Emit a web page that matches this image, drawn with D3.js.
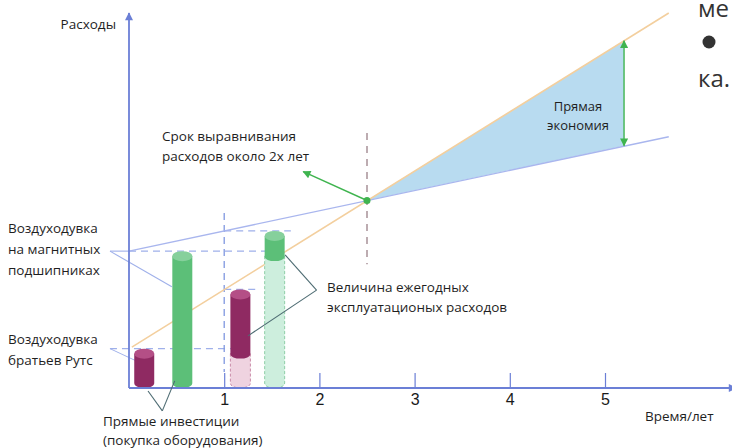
<!DOCTYPE html>
<html>
<head>
<meta charset="utf-8">
<script src="https://cdn.jsdelivr.net/npm/d3@7"></script>
<style>
  body { margin: 0; background: #fff; }
  svg { display: block; }
  .lbl { font-family: "Open Sans", sans-serif; font-size: 13.5px; fill: #1f1f1f; }
</style>
</head>
<body>
<svg id="chart" width="732" height="448"></svg>
<script>
// годы на оси X
const years = [1, 2, 3, 4, 5];

// линии накопленных расходов [год, расходы]
const rootsLine = [[0.03, 10.9], [5.67, 100]];
const magLine = [[0, 36.5], [5.67, 67]];
const breakEven = [2.5, 50];
const savingT = 5.2;
const savingTop = 92.6;
const savingBottom = 64.6;

// цилиндры: позиция (год), основание, верх, тип, прозрачный
const cylinders = [
  { t: 0.16, base: 0, top: 10.5, kind: "roots", ghost: false },
  { t: 0.56, base: 0, top: 36.5, kind: "mag", ghost: false },
  { t: 1.17, base: 0, top: 10.5, kind: "roots", ghost: true },
  { t: 1.17, base: 10.5, top: 26.3, kind: "roots", ghost: false },
  { t: 1.53, base: 0, top: 36.5, kind: "mag", ghost: true },
  { t: 1.53, base: 36.5, top: 41.9, kind: "mag", ghost: false }
];

const svg = d3.select("#chart");
const x = d3.scaleLinear().domain([0, 5]).range([129, 605]);
const y = d3.scaleLinear().domain([0, 100]).range([388, 13]);

const axisColor = "#6b7fd6";
const blueLine = "#a9b6ee";
const orangeLine = "#f3cf9e";
const green = "#3fb44f";
const connector = "#4d6b72";

// маркеры стрелок
const defs = svg.append("defs");
function marker(id, color, w, h) {
  defs.append("marker")
    .attr("id", id).attr("viewBox", "0 0 10 10")
    .attr("refX", 9).attr("refY", 5)
    .attr("markerWidth", w).attr("markerHeight", h)
    .attr("markerUnits", "userSpaceOnUse")
    .attr("orient", "auto-start-reverse")
    .append("path").attr("d", "M0,0 L10,5 L0,10 z").attr("fill", color);
}
marker("axArrow", axisColor, 9, 8);
marker("gArrow", green, 10, 8);

// заливка "Прямая экономия"
svg.append("path")
  .attr("d", d3.line()([
    [x(breakEven[0]), y(breakEven[1])],
    [x(savingT), y(savingTop)],
    [x(savingT), y(savingBottom)]
  ]) + "Z")
  .attr("fill", "#b8dbf0");

// пунктирные линии уровней
const dash = (x1, y1, x2, y2, color, da) => svg.append("line")
  .attr("x1", x1).attr("y1", y1).attr("x2", x2).attr("y2", y2)
  .attr("stroke", color).attr("stroke-width", 1.3).attr("stroke-dasharray", da);

dash(x(-0.2), y(10.5), x(1.28), y(10.5), "#9fb0ea", "7,5");
dash(x(0), y(36.5), x(1.43), y(36.5), "#9fb0ea", "7,5");
dash(x(1.0), y(26.3), x(1.33), y(26.3), "#9fb0ea", "7,5");
dash(x(1.0), y(41.9), x(1.7), y(41.9), "#9fb0ea", "7,5");
dash(x(1.0), y(46.7), x(1.0), y(4.3), "#7f97e0", "7,5");
dash(x(2.5), y(68), x(2.5), y(33), "#9a8088", "7,6");

// линии накопленных расходов
svg.append("path").attr("d", d3.line().x(d => x(d[0])).y(d => y(d[1]))(magLine))
  .attr("fill", "none").attr("stroke", blueLine).attr("stroke-width", 1.4);
svg.append("path").attr("d", d3.line().x(d => x(d[0])).y(d => y(d[1]))(rootsLine))
  .attr("fill", "none").attr("stroke", orangeLine).attr("stroke-width", 1.6);

// линии-выноски подписей слева
const seg = (a, b, color) => svg.append("line")
  .attr("x1", x(a[0])).attr("y1", y(a[1])).attr("x2", x(b[0])).attr("y2", y(b[1]))
  .attr("stroke", color).attr("stroke-width", 1.1);
seg([-0.2, 36.5], [0, 36.5], "#9fb0ea");
seg([-0.2, 36.5], [0.45, 27], "#9fb0ea");
seg([-0.2, 10.5], [0.12, 6.7], "#9fb0ea");

// цилиндры
const cw = x(0.21) - x(0);
const ry = 5;
cylinders.forEach(c => {
  const cx = x(c.t);
  const yt = y(c.top) + ry;
  const yb = c.base === 0 ? y(0) - ry : y(c.base) + ry;
  const l = cx - cw / 2, r = cx + cw / 2;
  let body, topFill, stroke;
  if (c.kind === "roots") {
    body = c.ghost ? "#efd3e0" : "#8f2a62";
    topFill = c.ghost ? "#f5e0ea" : "#b44f86";
    stroke = c.ghost ? "#c98aa8" : "#7a2053";
  } else {
    body = c.ghost ? "#cdeedd" : "#5cbf78";
    topFill = c.ghost ? "#dff5e8" : "#86d09c";
    stroke = c.ghost ? "#8fcfa7" : "#4aa965";
  }
  const g = svg.append("g");
  const p = d3.path();
  p.moveTo(l, yt);
  p.lineTo(l, yb);
  p.bezierCurveTo(l, yb + ry * 1.33, r, yb + ry * 1.33, r, yb);
  p.lineTo(r, yt);
  p.closePath();
  g.append("path").attr("d", p.toString())
    .attr("fill", body)
    .attr("stroke", c.ghost ? stroke : "none")
    .attr("stroke-width", 1)
    .attr("stroke-dasharray", c.ghost ? "3,2" : null);
  if (!c.ghost) {
    g.append("ellipse").attr("cx", cx).attr("cy", yt).attr("rx", cw / 2).attr("ry", ry)
      .attr("fill", topFill);
  }
});

// оси
const xAxis = d3.axisBottom(x).tickValues(years).tickFormat(d3.format("d"))
  .tickSizeInner(-15).tickSizeOuter(0).tickPadding(6);
const gx = svg.append("g").attr("transform", `translate(0,${y(0)})`).call(xAxis);
gx.select(".domain").remove();
gx.selectAll(".tick line").attr("stroke", axisColor).attr("stroke-width", 1.2);
gx.selectAll(".tick text").attr("fill", "#1a1a1a")
  .style("font-family", "'Liberation Sans', Arial, sans-serif").style("font-size", "16px");

svg.append("line").attr("x1", x(0)).attr("y1", y(0)).attr("x2", 736).attr("y2", y(0))
  .attr("stroke", axisColor).attr("stroke-width", 1.8).attr("marker-end", "url(#axArrow)");
svg.append("line").attr("x1", x(0)).attr("y1", y(0)).attr("x2", x(0)).attr("y2", 13)
  .attr("stroke", axisColor).attr("stroke-width", 1.8).attr("marker-end", "url(#axArrow)");

// выноски к подписям снизу и справа
seg([0.2, -0.8], [0.35, -6.1], connector);
seg([0.48, 1.9], [0.35, -6.1], connector);
seg([1.97, 26.1], [1.64, 35.5], connector);
seg([1.97, 26.1], [1.25, 13.9], connector);

// стрелка к сроку выравнивания
svg.append("line")
  .attr("x1", x(breakEven[0])).attr("y1", y(breakEven[1]))
  .attr("x2", x(1.83)).attr("y2", y(57.7))
  .attr("stroke", green).attr("stroke-width", 1.4).attr("marker-end", "url(#gArrow)");
svg.append("circle").attr("cx", x(breakEven[0])).attr("cy", y(breakEven[1])).attr("r", 3.5)
  .attr("fill", green);

// двусторонняя стрелка экономии
svg.append("line")
  .attr("x1", x(savingT)).attr("y1", y(savingBottom))
  .attr("x2", x(savingT)).attr("y2", y(savingTop))
  .attr("stroke", green).attr("stroke-width", 1.4)
  .attr("marker-start", "url(#gArrow)").attr("marker-end", "url(#gArrow)");

// подписи
function label(lines, px, py, opts = {}) {
  const t = svg.append("text").attr("class", "lbl")
    .attr("x", px).attr("y", py)
    .attr("text-anchor", opts.anchor || "start");
  if (opts.size) t.style("font-size", opts.size + "px");
  lines.forEach((s, i) => {
    t.append("tspan").attr("x", px).attr("dy", i === 0 ? 0 : (opts.lh || 21)).text(s);
  });
}
label(["Расходы"], 116, 29, { anchor: "end" });
label(["Воздуходувка", "на магнитных", "подшипниках"], 8, 233);
label(["Воздуходувка", "братьев Рутс"], 8, 344);
label(["Прямые инвестиции", "(покупка оборудования)"], 103, 426, { lh: 19 });
label(["Величина ежегодных", "эксплуатационых расходов"], 327, 292, { lh: 19.5 });
label(["Срок выравнивания", "расходов около 2х лет"], 162, 141, { lh: 19.5 });
label(["Прямая", "экономия"], 578, 111, { anchor: "middle", size: 13, lh: 19 });
label(["Время/лет"], 645, 421);

// фрагменты текста страницы справа сверху
const bg = svg.append("g").style("font-family", "'Open Sans', sans-serif")
  .style("font-size", "24px").attr("fill", "#333");
bg.append("text").attr("x", 698).attr("y", 17).text("ме");
bg.append("text").attr("x", 698).attr("y", 87).text("ка.");
svg.append("circle").attr("cx", 709).attr("cy", 42).attr("r", 6.5).attr("fill", "#333");
</script>
</body>
</html>
